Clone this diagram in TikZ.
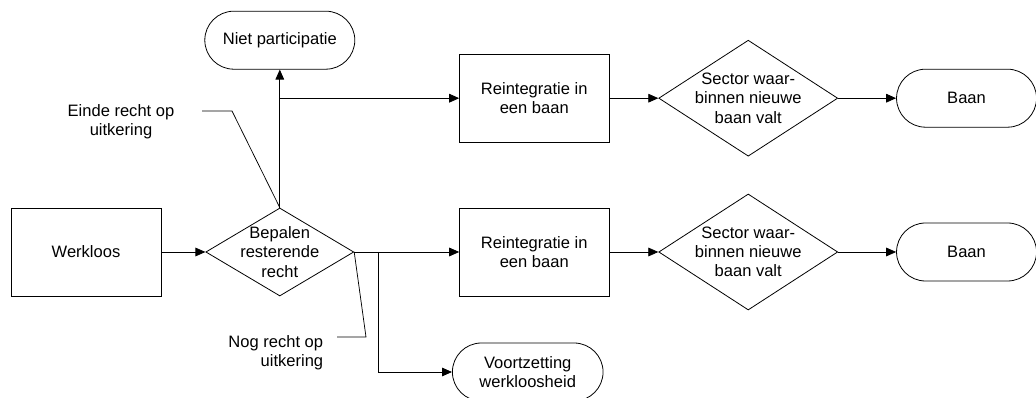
\documentclass[tikz,border=0pt]{standalone}
\usepackage{fontspec}
\setmainfont{Liberation Sans}
\usetikzlibrary{arrows.meta, positioning, calc, shapes.geometric, shapes.misc}

\begin{document}
\begin{tikzpicture}[
  x=0.75pt, y=-0.75pt,
  font=\fontsize{12.4}{14.4}\selectfont,
  block/.style = {draw, minimum height=66pt, minimum width=112pt, align=center, inner sep=0pt},
  decision/.style = {draw, diamond, inner sep=0pt},
  terminal/.style = {draw, rounded rectangle, minimum height=43.5pt, minimum width=105pt, align=center, inner sep=0pt},
  arrow/.style = {line width=0.6pt, -{Triangle[length=7.5pt, width=6.5pt]}},
  callout/.style = {line width=0.55pt, draw=black},
  line width=0.6pt
]
\useasboundingbox (0,0) rectangle (1036,398);

% Start
\node[block, minimum width=112.5pt] (werkloos) at (86,252) {Werkloos};

% Bepalen resterende recht
\node[decision, minimum width=111pt, minimum height=66pt,
  label={[align=center]center:Bepalen\\resterende\\recht},
  right=33pt of werkloos] (bepalen) {};

% Lower row
\node[block, right=78.75pt of bepalen] (rbot) {Reintegratie in\\een baan};
\node[decision, minimum width=134.25pt, minimum height=87pt,
  label={[align=center]center:Sector waar-\\binnen nieuwe\\baan valt},
  right=36.75pt of rbot] (sbot) {};
\node[terminal, right=43.5pt of sbot] (bbot) {Baan};

% Upper row
\node[block, above=48.75pt of rbot] (rtop) {Reintegratie in\\een baan};
\node[decision, minimum width=134.25pt, minimum height=87pt,
  label={[align=center]center:Sector waar-\\binnen nieuwe\\baan valt},
  right=36.75pt of rtop] (stop) {};
\node[terminal, right=43.5pt of stop] (btop) {Baan};

% End states
\node[terminal, minimum width=112.5pt, above=103.5pt of bepalen] (niet) {Niet participatie};
\node[terminal, minimum width=113pt, anchor=west] (voort) at (452,372) {Voortzetting\\werkloosheid};

% Flow
\draw[arrow] (werkloos.east) -- (bepalen.west);
\draw[arrow] (bepalen.north) -- (niet.south);
\draw[arrow] (bepalen.north |- rtop.west) -- (rtop.west);
\draw[arrow] (bepalen.east) -- (rbot.west);
\coordinate (split) at ($(bepalen.east)+(24,0)$);
\draw[arrow] (split) |- (voort.west);

\draw[arrow] (rtop.east) -- (stop.west);
\draw[arrow] (stop.east) -- (btop.west);
\draw[arrow] (rbot.east) -- (sbot.west);
\draw[arrow] (sbot.east) -- (bbot.west);

% Callouts
\node[align=center] (einde) at (121,122) {Einde recht op\\uitkering};
\coordinate (eindeA) at (202,111);
\coordinate (eindeB) at (232,111);
\draw[callout] (eindeA) -- (eindeB) -- (bepalen.north);

\node[align=right, anchor=east] (nog) at (328,353) {Nog recht op\\uitkering};
\coordinate (nogA) at (337,337);
\coordinate (nogB) at (366,337);
\draw[callout] (nogA) -- (nogB) -- (bepalen.east);

\end{tikzpicture}
\end{document}
